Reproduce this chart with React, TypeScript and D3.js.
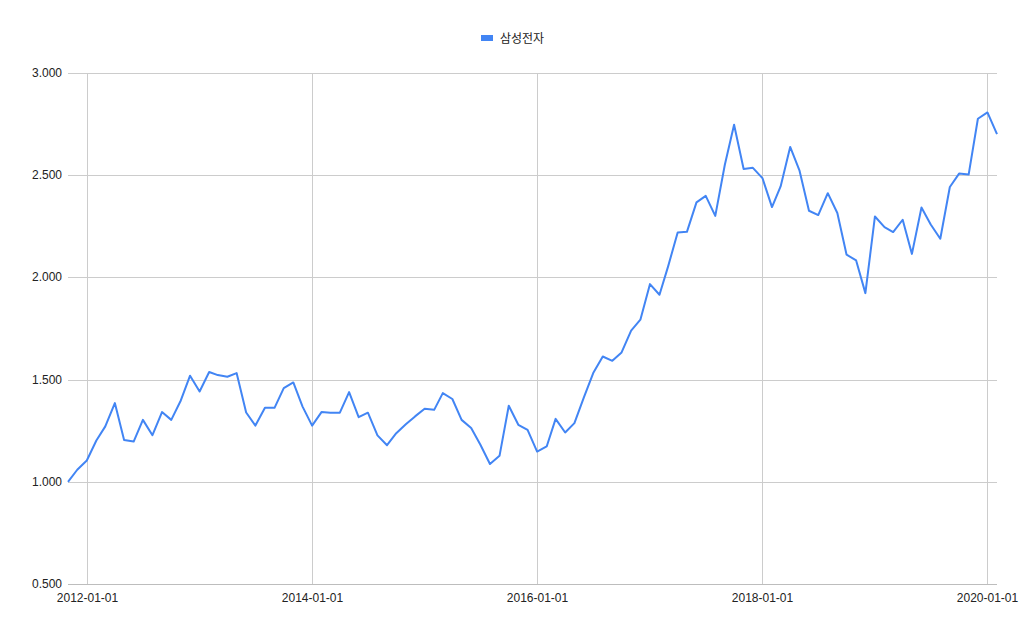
import React from "react";
import * as d3 from "d3";

const seriesName = "삼성전자";
const startMonth = "2011-11-01";
const values: number[] = [
  1.0, 1.059, 1.104, 1.202, 1.271, 1.385, 1.205, 1.197, 1.303, 1.228,
  1.341, 1.303, 1.398, 1.519, 1.442, 1.537, 1.522, 1.514, 1.532, 1.339,
  1.275, 1.362, 1.362, 1.458, 1.486, 1.368, 1.275, 1.342, 1.338, 1.338,
  1.439, 1.316, 1.338, 1.227, 1.179, 1.238, 1.282, 1.32, 1.357, 1.352,
  1.434, 1.405, 1.303, 1.263, 1.181, 1.087, 1.127, 1.372, 1.279, 1.254,
  1.148, 1.173, 1.308, 1.241, 1.287, 1.414, 1.532, 1.613, 1.592, 1.633,
  1.74, 1.793, 1.967, 1.915, 2.054, 2.22, 2.223, 2.367, 2.399, 2.301,
  2.551, 2.747, 2.53, 2.536, 2.486, 2.344, 2.445, 2.638, 2.524, 2.326,
  2.305, 2.412, 2.315, 2.111, 2.083, 1.923, 2.298, 2.246, 2.222, 2.282,
  2.115, 2.342, 2.259, 2.189, 2.442, 2.508, 2.503, 2.776, 2.807, 2.701,
];
const yTicks = [0.5, 1.0, 1.5, 2.0, 2.5, 3.0];
const xTickLabels = ["2012-01-01", "2014-01-01", "2016-01-01", "2018-01-01", "2020-01-01"];

const W = 1029;
const H = 636;
const left = 68;
const right = 997;
const top = 73;
const bottom = 584;
const FONT = "'Liberation Sans', Arial, 'Noto Sans CJK KR', sans-serif";

export default function App() {
  const parse = d3.utcParse("%Y-%m-%d");
  const start = parse(startMonth)!;
  const dates = values.map((_, i) => d3.utcMonth.offset(start, i));
  const data = values.map((v, i) => ({ d: dates[i], v }));
  const x = d3.scaleUtc().domain([dates[0], dates[dates.length - 1]]).range([left, right]);
  const y = d3.scaleLinear().domain([0.5, 3.0]).range([bottom, top]);
  const line = d3
    .line<{ d: Date; v: number }>()
    .x((p) => x(p.d))
    .y((p) => y(p.v));
  const fmt = d3.format(".3f");

  return (
    <svg width={W} height={H} style={{ position: "absolute", left: 0, top: 0, background: "#fff" }}>
      <rect width={W} height={H} fill="#fff" />
      <rect x={481} y={35} width={12} height={6} fill="#4285F4" />
      <text x={500} y={43} fontFamily={FONT} fontSize={12} fill="#222">
        {seriesName}
      </text>
      {yTicks.map((t) => {
        const yy = Math.round(y(t)) + 0.5;
        return (
          <g key={t}>
            <line x1={left} x2={right} y1={yy} y2={yy} stroke={t === 0.5 ? "#bdbdbd" : "#cccccc"} strokeWidth={1} />
            <text x={62} y={y(t) + 4} textAnchor="end" fontFamily={FONT} fontSize={12} fill="#222">
              {fmt(t)}
            </text>
          </g>
        );
      })}
      {xTickLabels.map((l) => {
        const xx = Math.round(x(parse(l)!)) + 0.5;
        return (
          <g key={l}>
            <line x1={xx} x2={xx} y1={top} y2={bottom} stroke="#cccccc" strokeWidth={1} />
            <text x={xx} y={602} textAnchor="middle" fontFamily={FONT} fontSize={12} fill="#222">
              {l}
            </text>
          </g>
        );
      })}
      <path d={line(data) || ""} fill="none" stroke="#4285F4" strokeWidth={2} strokeLinejoin="round" />
    </svg>
  );
}
